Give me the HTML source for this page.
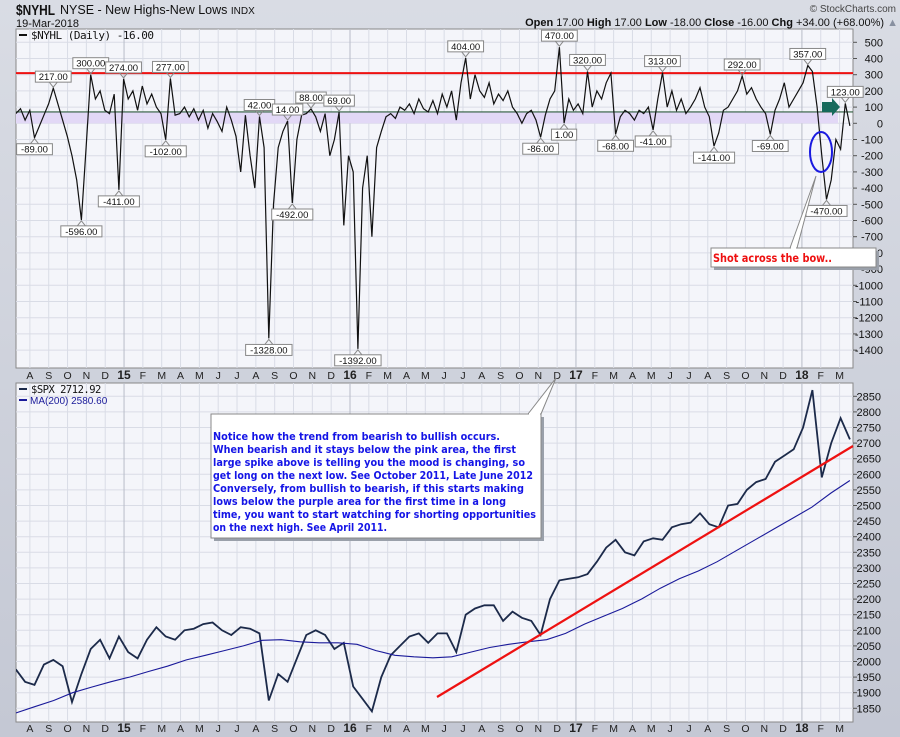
<!DOCTYPE html>
<html><head><meta charset="utf-8"><style>
html,body{margin:0;padding:0;background:#cfd3dd;}
svg{display:block;font-family:"Liberation Sans",sans-serif;}
</style></head><body>
<svg id="c" width="900" height="737" viewBox="0 0 900 737" xmlns="http://www.w3.org/2000/svg">
<defs>
<linearGradient id="bg" x1="0" y1="0" x2="0" y2="1"><stop offset="0" stop-color="#d9dce4"/><stop offset="1" stop-color="#c4c8d4"/></linearGradient>
<clipPath id="clipTop"><rect x="16" y="29" width="837" height="339"/></clipPath>
<clipPath id="clipBot"><rect x="16" y="383" width="837" height="339"/></clipPath>
</defs>
<rect x="0" y="0" width="900" height="737" fill="url(#bg)"/>
<text x="16" y="15" font-size="15" font-weight="bold" fill="#111" textLength="39" lengthAdjust="spacingAndGlyphs">$NYHL</text>
<text x="60" y="14" font-size="12.5" fill="#111">NYSE - New Highs-New Lows <tspan font-size="10">INDX</tspan></text>
<text x="16" y="27" font-size="11" fill="#111">19-Mar-2018</text>
<text x="896" y="12" font-size="10" fill="#444" text-anchor="end">© StockCharts.com</text>
<text x="898" y="26" font-size="11" fill="#111" text-anchor="end"><tspan font-weight="bold">Open</tspan> 17.00 <tspan font-weight="bold">High</tspan> 17.00 <tspan font-weight="bold">Low</tspan> -18.00 <tspan font-weight="bold">Close</tspan> -16.00 <tspan font-weight="bold">Chg</tspan> +34.00 (+68.00%) <tspan fill="#8890a0">▲</tspan></text>
<rect x="16" y="29" width="837" height="339" fill="#f4f5fa" stroke="#888"/>
<rect x="16" y="383" width="837" height="339" fill="#f4f5fa" stroke="#888"/>
<g id="grid"></g>
<g id="marks"></g>
<g id="anno"></g>
</svg>
<script>
// ---- data ----
const nyhl = [60,90,20,80, -89,-20,50,120, 217,120,20,-80, -200,-350,-596,-150, 300,150,200,80, 60,180,-411,274,
150,200,80,230, 120,180,100,60, -102,277,50,60, 100,40,90,20, 80,-30,60,10, -50,100,20,-80, -300,50,-200,-400,
42,-150,-1328,-500, -150,-50,14,-492, -100,50,60,88, 40,-50,60,-200, -100,69,-630,-200, -300,-1392,-400,-200,
-700,-150,-50,40, 60,30,100,80, 120,60,150,90, 70,140,60,180, 100,200,20,250, 404,150,300,200, 160,250,120,180,
140,200,100,60, 0,60,80,20, -86,50,150,200, 470,1,150,80, 120,60,320,100, 200,150,250,310, -68,40,80,60,
20,80,60,100, -41,150,313,100, 200,80,150,60, 100,150,220,100, 40,-141,-60,80, 100,150,200,292, 180,220,150,100,
60,-69,80,150, 250,100,150,200, 250,357,320,100, -200,-470,-350,-100, -160,123,-16];
const highLabels = [217,300,274,277,42,14,88,69,404,470,320,313,292,357,123];
const lowLabels = [-89,-596,-411,-102,-1328,-492,-1392,-86,1,-68,-41,-141,-69,-470];
const spx = [1975,1935, 1925,1990, 2005,1985, 1870,1960, 2040,2070, 2010,2080, 2030,2010, 2070,2110, 2080,2070,
2100,2105, 2120,2125, 2100,2085, 2110,2105, 2090,1875, 1960,1935, 2010,2085, 2100,2085, 2040,2060, 1920,1880,
1840,1950, 2020,2050, 2080,2090, 2060,2090, 2090,2030, 2150,2170, 2180,2180, 2130,2160, 2140,2130, 2085,2200,
2260,2265, 2270,2280, 2320,2365, 2390,2350, 2340,2385, 2395,2390, 2430,2440, 2445,2475, 2440,2430, 2500,2505,
2550,2575, 2585,2640, 2660,2680, 2750,2870, 2590,2700, 2780,2712];
const ma200 = [1835,1855,1875,1900,1918,1935,1950,1968,1985,2005,2020,2035,2050,2068,2070,2063,2060,2060,2055,2035,
2020,2015,2012,2015,2030,2045,2055,2063,2070,2090,2120,2145,2170,2200,2235,2265,2290,2320,2355,2390,2425,2460,2495,2540,2580];
const monthLabels = ["J","F","M","A","M","J","J","A","S","O","N","D"];
const topTicks = [500,400,300,200,100,0,-100,-200,-300,-400,-500,-600,-700,-800,-900,-1000,-1100,-1200,-1300,-1400];
const botTicks = [2850,2800,2750,2700,2650,2600,2550,2500,2450,2400,2350,2300,2250,2200,2150,2100,2050,2000,1950,1900,1850];
const redLevel = 310, greenLevel = 70;
// ---- axes ----
const NS="http://www.w3.org/2000/svg";
const xM = m => 350 + (m-24)*18.83;
const yT = v => 123.3 - v*0.162;
const yB = v => 396.3 + (2850-v)*0.312;
const M0 = 6.25, M1 = 50.55;
const xIdx = (i,n) => xM(M0 + (M1-M0)*i/(n-1));
function mk(tag, attrs, parent){const e=document.createElementNS(NS,tag);for(const k in attrs)e.setAttribute(k,attrs[k]);(parent||document.getElementById('c')).appendChild(e);return e;}
const grid=document.getElementById('grid'), marks=document.getElementById('marks'), anno=document.getElementById('anno');
topTicks.forEach(v=>{const y=yT(v);
 const l=mk('line',{x1:16,x2:853,y1:y,y2:y,stroke:'#d9dce6','stroke-width':1},grid);
 
 
 mk('line',{x1:853,x2:857,y1:y,y2:y,stroke:'#555'},grid);
 const t=mk('text',{x:883,y:y+4,'font-size':11,'text-anchor':'end',fill:'#111'},grid);t.textContent=v;
 
 
});
botTicks.forEach(v=>{const y=yB(v);
 const l=mk('line',{x1:16,x2:853,y1:y,y2:y,stroke:'#d9dce6','stroke-width':1},grid);
 
 
 mk('line',{x1:853,x2:857,y1:y,y2:y,stroke:'#555'},grid);
 const t=mk('text',{x:881,y:y+4,'font-size':11,'text-anchor':'end',fill:'#111'},grid);t.textContent=v;
 
 
});
for(let m=7;m<=50;m++){const x=xM(m);const yr=m%12===0;
 [[29,368],[383,722]].forEach(([a,b])=>{const l=mk('line',{x1:x,x2:x,y1:a,y2:b,stroke:yr?'#b8bcc8':'#d9dce6','stroke-width':1},grid);
  
  });
 const lab = yr ? String(14+m/12) : monthLabels[m%12];
 [379,732].forEach(y=>{const t=mk('text',{x:x,y:y,'font-size':yr?12:10.5,'font-weight':yr?'bold':'normal','text-anchor':'middle',fill:'#222'},grid);t.textContent=lab;
  
  });
}
const band=mk('rect',{x:16,y:yT(greenLevel),width:822,height:yT(0)-yT(greenLevel),fill:'#e2d8f6'},marks);


const gl=mk('line',{x1:16,x2:853,y1:yT(greenLevel),y2:yT(greenLevel),stroke:'#2f5d3f','stroke-width':1.2},marks);


const rl=mk('line',{x1:16,x2:853,y1:yT(redLevel),y2:yT(redLevel),stroke:'#ee1111','stroke-width':2},marks);


let d='';nyhl.forEach((v,i)=>{d+=(i?'L':'M')+xIdx(i,nyhl.length).toFixed(1)+','+yT(v).toFixed(1);});
const nl=mk('path',{d:d,fill:'none',stroke:'#111','stroke-width':1.2,'clip-path':'url(#clipTop)'},marks);


d='';spx.forEach((v,i)=>{d+=(i?'L':'M')+xIdx(i,spx.length).toFixed(1)+','+yB(v).toFixed(1);});
const sl=mk('path',{d:d,fill:'none',stroke:'#1c2a4a','stroke-width':1.8,'clip-path':'url(#clipBot)'},marks);


d='';ma200.forEach((v,i)=>{d+=(i?'L':'M')+xM(6.25+i*(50.55-6.25)/(ma200.length-1)).toFixed(1)+','+yB(v).toFixed(1);});
const ml=mk('path',{d:d,fill:'none',stroke:'#1a1a9a','stroke-width':1.1,'clip-path':'url(#clipBot)'},marks);


const tl=mk('line',{x1:437,y1:697,x2:853,y2:446,stroke:'#ee1111','stroke-width':2.2},marks);


function vlabel(v,high){const i=nyhl.indexOf(v);if(i<0)return;const x=xIdx(i,nyhl.length),y=yT(v);
 const txt=v.toFixed(2);const w=txt.length*5.3+4;
 const by = high ? y-17 : y+6;
 const g=mk('g',{},anno);
 
 
 const py = high ? by+11 : by;
 mk('path',{d:`M${x-4},${py} L${x},${high?y-1:y+1} L${x+4},${py}`,fill:'none',stroke:'#888'},g);
 mk('rect',{x:x-w/2,y:by,width:w,height:11,fill:'#fff',stroke:'#888'},g);
 const t=mk('text',{x:x,y:by+9,'font-size':9.5,'text-anchor':'middle',fill:'#111'},g);t.textContent=txt;}
highLabels.forEach(v=>vlabel(v,true));lowLabels.forEach(v=>vlabel(v,false));
</script>
<script>
const c=document.getElementById('c');
const extra=`
<g><line x1="19" y1="35" x2="27" y2="35" stroke="#111" stroke-width="2"/><text x="31" y="39" font-size="11" fill="#111" font-family="DejaVu Sans Mono, Liberation Mono, monospace" letter-spacing="-0.5">$NYHL (Daily) -16.00</text></g>
<g><line x1="19" y1="389" x2="27" y2="389" stroke="#1c2a4a" stroke-width="2"/><text x="31" y="393" font-size="10.5" fill="#111" font-family="DejaVu Sans Mono, Liberation Mono, monospace" letter-spacing="-0.5">$SPX 2712.92</text>
<line x1="19" y1="400" x2="27" y2="400" stroke="#1a1a9a" stroke-width="2"/><text x="30" y="404" font-size="10" fill="#1a1a9a">MA(200) 2580.60</text></g>
<ellipse cx="821" cy="152" rx="11" ry="20" fill="none" stroke="#1a1ae0" stroke-width="2"/>
<path d="M822,102 L832,102 L832,98 L840,107 L832,116 L832,112 L822,112 Z" fill="#166a5c"/>
<g>
<rect x="214" y="417" width="330" height="124" fill="#9aa0aa"/>
<path d="M528,414 L556,378 L541,414" fill="#fff" stroke="#888"/>
<rect x="211" y="414" width="330" height="124" fill="#fff" stroke="#888"/>
<line x1="529" y1="414" x2="540" y2="414" stroke="#fff" stroke-width="2"/>
<g font-size="11" font-weight="bold" fill="#1414e6" font-family="DejaVu Sans, sans-serif">
<text x="213" y="440" textLength="287" lengthAdjust="spacingAndGlyphs">Notice how the trend from bearish to bullish occurs.</text>
<text x="213" y="453" textLength="303" lengthAdjust="spacingAndGlyphs">When bearish and it stays below the pink area, the first</text>
<text x="213" y="466" textLength="312" lengthAdjust="spacingAndGlyphs">large spike above is telling you the mood is changing, so</text>
<text x="213" y="479" textLength="320" lengthAdjust="spacingAndGlyphs">get long on the next low. See October 2011, Late June 2012</text>
<text x="213" y="492" textLength="311" lengthAdjust="spacingAndGlyphs">Conversely, from bullish to bearish, if this starts making</text>
<text x="213" y="505" textLength="293" lengthAdjust="spacingAndGlyphs">lows below the purple area for the first time in a long</text>
<text x="213" y="518" textLength="323" lengthAdjust="spacingAndGlyphs">time, you want to start watching for shorting opportunities</text>
<text x="213" y="531" textLength="174" lengthAdjust="spacingAndGlyphs">on the next high. See April 2011.</text></g></g>
<g>
<rect x="714" y="251" width="165" height="19" fill="#9aa0aa"/>
<path d="M790,248 L816,176 L797,248" fill="#fff" stroke="#888"/>
<rect x="711" y="248" width="165" height="19" fill="#fff" stroke="#888"/>
<line x1="791" y1="248" x2="796" y2="248" stroke="#fff" stroke-width="2"/>
<text x="713" y="262" font-size="11.5" font-weight="bold" fill="#ee1111" font-family="DejaVu Sans, sans-serif" textLength="119" lengthAdjust="spacingAndGlyphs">Shot across the bow..</text></g>`;
c.insertAdjacentHTML('beforeend', extra);
</script>
</body></html>
